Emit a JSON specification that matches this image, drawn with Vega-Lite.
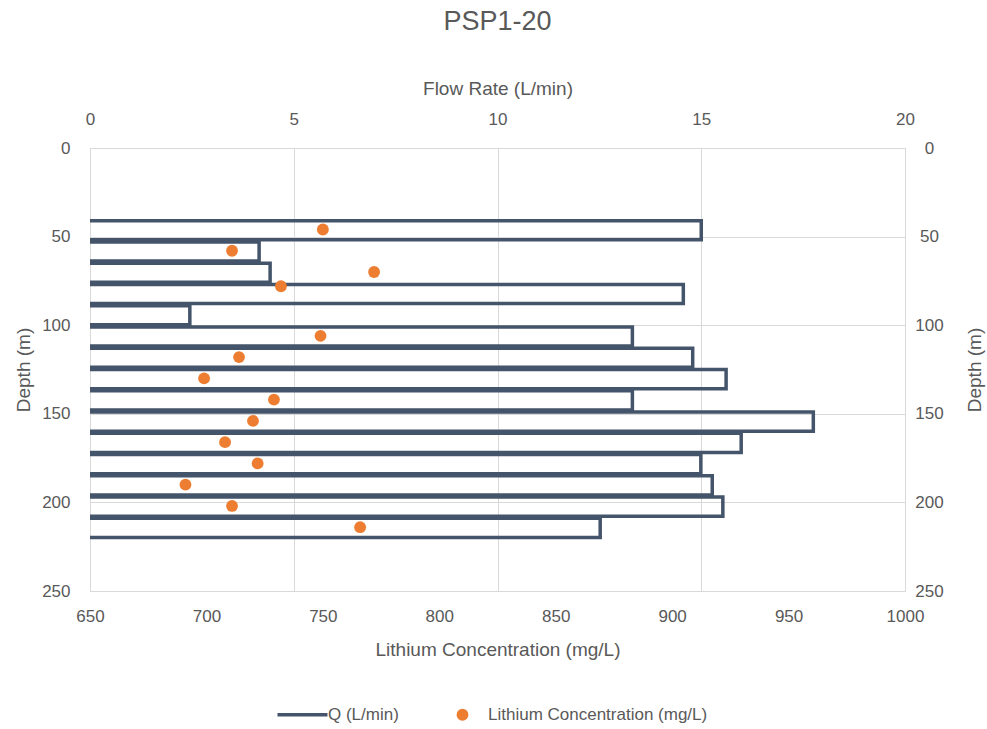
{
  "$schema": "https://vega.github.io/schema/vega-lite/v6.json",
  "width": 815,
  "height": 443,
  "autosize": {"type": "none"},
  "padding": {"left": 90, "top": 148, "right": 82, "bottom": 138},
  "title": {"text": "PSP1-20", "fontSize": 27, "fontWeight": "normal", "color": "#595959", "frame": "group", "anchor": "middle", "offset": 43},
  "config": {
    "view": {"stroke": null},
    "font": "Liberation Sans",
    "axis": {"labelColor": "#595959", "titleColor": "#595959", "labelFontSize": 17, "titleFontSize": 19, "titleFontWeight": "normal", "gridColor": "#d9d9d9", "domainColor": "#d9d9d9", "ticks": false, "labelFlush": false, "labelOverlap": false}
  },
  "layer": [
    {
      "data": {"values": [
        {"seg": 1, "o": 1, "depth": 41, "q": 0}, {"seg": 1, "o": 2, "depth": 41, "q": 15.0}, {"seg": 1, "o": 3, "depth": 51.8, "q": 15.0}, {"seg": 1, "o": 4, "depth": 51.8, "q": 0},
        {"seg": 2, "o": 1, "depth": 53, "q": 0}, {"seg": 2, "o": 2, "depth": 53, "q": 4.15}, {"seg": 2, "o": 3, "depth": 63.8, "q": 4.15}, {"seg": 2, "o": 4, "depth": 63.8, "q": 0},
        {"seg": 3, "o": 1, "depth": 65, "q": 0}, {"seg": 3, "o": 2, "depth": 65, "q": 4.42}, {"seg": 3, "o": 3, "depth": 75.8, "q": 4.42}, {"seg": 3, "o": 4, "depth": 75.8, "q": 0},
        {"seg": 4, "o": 1, "depth": 77, "q": 0}, {"seg": 4, "o": 2, "depth": 77, "q": 14.56}, {"seg": 4, "o": 3, "depth": 87.8, "q": 14.56}, {"seg": 4, "o": 4, "depth": 87.8, "q": 0},
        {"seg": 5, "o": 1, "depth": 89, "q": 0}, {"seg": 5, "o": 2, "depth": 89, "q": 2.45}, {"seg": 5, "o": 3, "depth": 99.8, "q": 2.45}, {"seg": 5, "o": 4, "depth": 99.8, "q": 0},
        {"seg": 6, "o": 1, "depth": 101, "q": 0}, {"seg": 6, "o": 2, "depth": 101, "q": 13.31}, {"seg": 6, "o": 3, "depth": 111.8, "q": 13.31}, {"seg": 6, "o": 4, "depth": 111.8, "q": 0},
        {"seg": 7, "o": 1, "depth": 113, "q": 0}, {"seg": 7, "o": 2, "depth": 113, "q": 14.79}, {"seg": 7, "o": 3, "depth": 123.8, "q": 14.79}, {"seg": 7, "o": 4, "depth": 123.8, "q": 0},
        {"seg": 8, "o": 1, "depth": 125, "q": 0}, {"seg": 8, "o": 2, "depth": 125, "q": 15.61}, {"seg": 8, "o": 3, "depth": 135.8, "q": 15.61}, {"seg": 8, "o": 4, "depth": 135.8, "q": 0},
        {"seg": 9, "o": 1, "depth": 137, "q": 0}, {"seg": 9, "o": 2, "depth": 137, "q": 13.31}, {"seg": 9, "o": 3, "depth": 147.8, "q": 13.31}, {"seg": 9, "o": 4, "depth": 147.8, "q": 0},
        {"seg": 10, "o": 1, "depth": 149, "q": 0}, {"seg": 10, "o": 2, "depth": 149, "q": 17.75}, {"seg": 10, "o": 3, "depth": 159.8, "q": 17.75}, {"seg": 10, "o": 4, "depth": 159.8, "q": 0},
        {"seg": 11, "o": 1, "depth": 161, "q": 0}, {"seg": 11, "o": 2, "depth": 161, "q": 15.98}, {"seg": 11, "o": 3, "depth": 171.8, "q": 15.98}, {"seg": 11, "o": 4, "depth": 171.8, "q": 0},
        {"seg": 12, "o": 1, "depth": 173, "q": 0}, {"seg": 12, "o": 2, "depth": 173, "q": 14.99}, {"seg": 12, "o": 3, "depth": 183.8, "q": 14.99}, {"seg": 12, "o": 4, "depth": 183.8, "q": 0},
        {"seg": 13, "o": 1, "depth": 185, "q": 0}, {"seg": 13, "o": 2, "depth": 185, "q": 15.27}, {"seg": 13, "o": 3, "depth": 195.8, "q": 15.27}, {"seg": 13, "o": 4, "depth": 195.8, "q": 0},
        {"seg": 14, "o": 1, "depth": 197, "q": 0}, {"seg": 14, "o": 2, "depth": 197, "q": 15.53}, {"seg": 14, "o": 3, "depth": 207.8, "q": 15.53}, {"seg": 14, "o": 4, "depth": 207.8, "q": 0},
        {"seg": 15, "o": 1, "depth": 209, "q": 0}, {"seg": 15, "o": 2, "depth": 209, "q": 12.52}, {"seg": 15, "o": 3, "depth": 219.8, "q": 12.52}, {"seg": 15, "o": 4, "depth": 219.8, "q": 0}
      ]},
      "mark": {"type": "line", "strokeWidth": 3.5, "strokeJoin": "miter", "strokeCap": "butt"},
      "encoding": {
        "x": {"field": "q", "type": "quantitative", "scale": {"domain": [0, 20], "nice": false, "zero": false},
              "axis": {"orient": "top", "title": "Flow Rate (L/min)", "values": [0, 5, 10, 15, 20], "grid": true, "labelPadding": 20, "titlePadding": 12}},
        "y": {"field": "depth", "type": "quantitative", "scale": {"domain": [0, 250], "reverse": true, "nice": false, "zero": false},
              "axis": {"orient": "left", "title": "Depth (m)", "values": [0, 50, 100, 150, 200, 250], "grid": true, "labelPadding": 20, "titlePadding": 8}},
        "detail": {"field": "seg", "type": "nominal"},
        "order": {"field": "o", "type": "quantitative"},
        "color": {"datum": "Q (L/min)", "type": "nominal",
                  "scale": {"domain": ["Q (L/min)", "Lithium Concentration (mg/L)"], "range": ["#44546A", "#ED7D31"]},
                  "legend": {
                    "orient": "none", "legendX": 204, "legendY": 558, "direction": "horizontal", "title": null,
                    "symbolSize": 2500, "labelFontSize": 17, "labelColor": "#595959", "labelOffset": 17, "labelLimit": 400, "columnPadding": 55, "padding": 0,
                    "encode": {"symbols": {"update": {
                      "shape": {"signal": "datum.value === 'Q (L/min)' ? 'stroke' : 'circle'"},
                      "size": {"signal": "datum.value === 'Q (L/min)' ? 2500 : 140"},
                      "stroke": {"signal": "datum.value === 'Q (L/min)' ? '#44546A' : 'transparent'"},
                      "fill": {"signal": "datum.value === 'Q (L/min)' ? 'transparent' : '#ED7D31'"},
                      "strokeWidth": {"signal": "datum.value === 'Q (L/min)' ? 3.5 : 0"},
                      "opacity": {"value": 1}
                    }}}
                  }}
      }
    },
    {
      "data": {"values": [
        {"depth": 46, "li": 750}, {"depth": 58, "li": 711}, {"depth": 70, "li": 772}, {"depth": 78, "li": 732},
        {"depth": 106, "li": 749}, {"depth": 118, "li": 714}, {"depth": 130, "li": 699}, {"depth": 142, "li": 729},
        {"depth": 154, "li": 720}, {"depth": 166, "li": 708}, {"depth": 178, "li": 722}, {"depth": 190, "li": 691},
        {"depth": 202, "li": 711}, {"depth": 214, "li": 766}
      ]},
      "mark": {"type": "circle", "size": 140, "opacity": 1},
      "encoding": {
        "x": {"field": "li", "type": "quantitative", "scale": {"domain": [650, 1000], "nice": false, "zero": false},
              "axis": {"orient": "bottom", "title": "Lithium Concentration (mg/L)", "format": "d", "values": [650, 700, 750, 800, 850, 900, 950, 1000], "grid": false, "labelPadding": 17, "titlePadding": 16}},
        "y": {"field": "depth", "type": "quantitative", "scale": {"domain": [0, 250], "reverse": true, "nice": false, "zero": false},
              "axis": {"orient": "right", "title": "Depth (m)", "values": [0, 50, 100, 150, 200, 250], "grid": false, "labelAlign": "center", "labelPadding": 24, "titlePadding": 22, "titleAngle": 270, "titleBaseline": "top"}},
        "color": {"datum": "Lithium Concentration (mg/L)", "type": "nominal"}
      }
    }
  ],
  "resolve": {"scale": {"x": "independent", "y": "independent"}, "axis": {"x": "independent", "y": "independent"}}
}
